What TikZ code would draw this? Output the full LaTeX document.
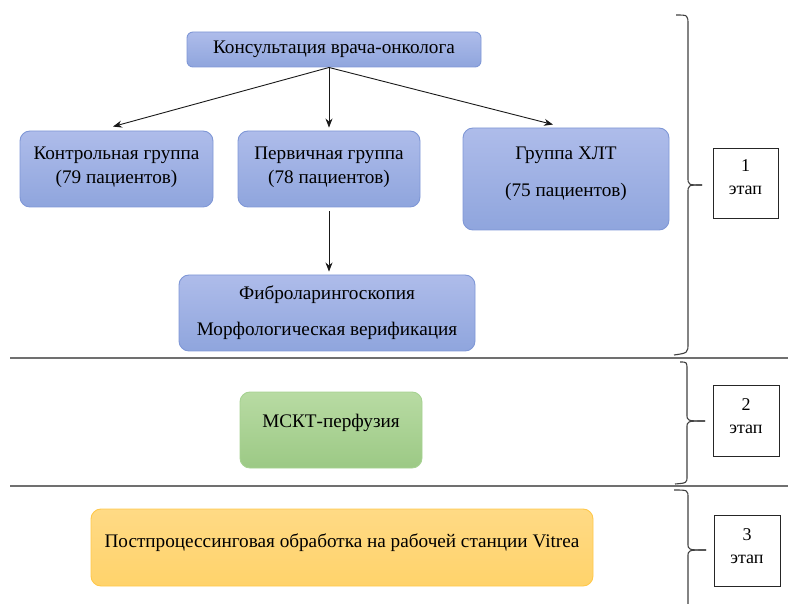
\documentclass[tikz,border=0pt]{standalone}
\usepackage{fontspec}
\setmainfont{Liberation Serif}
\usetikzlibrary{calc,arrows.meta}
\definecolor{bluetop}{HTML}{AEBCEA}
\definecolor{bluebot}{HTML}{8FA5DD}
\definecolor{blueline}{HTML}{7F97D6}
\definecolor{greentop}{HTML}{B8DBA3}
\definecolor{greenbot}{HTML}{9CC985}
\definecolor{greenline}{HTML}{A6D291}
\definecolor{yeltop}{HTML}{FFDA85}
\definecolor{yelbot}{HTML}{FFD36B}
\definecolor{yelline}{HTML}{FFC84A}
\definecolor{sepline}{HTML}{707070}
\definecolor{braceline}{HTML}{404040}
\begin{document}
\begin{tikzpicture}[x=1pt,y=-1pt,
  every node/.style={font=\fontsize{19.2}{24}\selectfont, inner sep=0pt, align=center, text=black},
  bluebox/.style={rectangle, rounded corners=10pt, draw=blueline, line width=0.9pt, top color=bluetop, bottom color=bluebot},
  greenbox/.style={rectangle, rounded corners=10pt, draw=greenline, line width=0.9pt, top color=greentop, bottom color=greenbot},
  yelbox/.style={rectangle, rounded corners=10pt, draw=yelline, line width=0.9pt, top color=yeltop, bottom color=yelbot},
  stagebox/.style={rectangle, draw=black!85, line width=0.9pt, fill=white},
  arr/.style={-{Stealth[length=9pt,width=7pt]}, line width=0.9pt, black!90},
  sep/.style={draw=sepline, line width=1.5pt},
  brace/.style={draw=braceline, line width=1.1pt}
]
\useasboundingbox (0,0) rectangle (788,604);

% separators
\draw[sep] (10,358) -- (788,358);
\draw[sep] (10,486) -- (788,486);

% boxes
\node[bluebox, rounded corners=6pt, minimum width=294pt, minimum height=35pt] (top) at (334,49.5) {Консультация врача-онколога};
\node[bluebox, minimum width=193pt, minimum height=76pt] (kontr) at (116.5,169) {\begin{minipage}{190pt}\centering\fontsize{19.2}{24}\selectfont Контрольная группа\\(79 пациентов)\par\vspace{4pt}\end{minipage}};
\node[bluebox, minimum width=182pt, minimum height=76pt] (prim) at (329,169) {\begin{minipage}{180pt}\centering\fontsize{19.2}{24}\selectfont Первичная группа\\(78 пациентов)\par\vspace{4pt}\end{minipage}};
\node[bluebox, minimum width=206pt, minimum height=102pt] (xlt) at (566,179) {\begin{minipage}{200pt}\centering\fontsize{19.2}{37}\selectfont Группа ХЛТ\\(75 пациентов)\par\vspace{10pt}\end{minipage}};
\node[bluebox, minimum width=296pt, minimum height=76pt] (fib) at (327,313) {\begin{minipage}{290pt}\centering\fontsize{19.2}{36}\selectfont Фиброларингоскопия\\Морфологическая верификация\end{minipage}};
\node[greenbox, minimum width=182pt, minimum height=76pt] (msct) at (331,430) {\begin{minipage}{180pt}\centering МСКТ-перфузия\par\vspace{14pt}\end{minipage}};
\node[yelbox, minimum width=502pt, minimum height=77pt] (post) at (342,547.5) {\begin{minipage}{495pt}\centering Постпроцессинговая обработка на рабочей станции Vitrea\par\vspace{10pt}\end{minipage}};

% stage boxes
\node[stagebox, minimum width=65pt, minimum height=70pt] (st1) at (745.5,183) {\begin{minipage}{60pt}\centering\fontsize{18}{23}\selectfont 1\\этап\par\vspace{11pt}\end{minipage}};
\node[stagebox, minimum width=66pt, minimum height=71pt] (st2) at (746,420.5) {\begin{minipage}{60pt}\centering\fontsize{18}{23}\selectfont 2\\этап\par\vspace{8pt}\end{minipage}};
\node[stagebox, minimum width=66pt, minimum height=71pt] (st3) at (747,550.5) {\begin{minipage}{60pt}\centering\fontsize{18}{23}\selectfont 3\\этап\par\vspace{9pt}\end{minipage}};

% arrows
\coordinate (split) at (329,67.5);
\draw[arr] (split) -- ($(kontr.north)+(-3.5,-4)$);
\draw[arr] (split) -- ($(prim.north)+(0,-3)$);
\draw[arr] (split) -- ($(xlt.north)+(-13,-3)$);
\draw[arr] ($(prim.south)+(0,4)$) -- ($(fib.north)+(2,-3)$);

% braces
\draw[brace] (676,15) .. controls (688,15) .. (688,25) -- (688,177) .. controls (688,185) .. (702,185);
\draw[brace] (702,185) .. controls (688,185) .. (688,193) -- (688,343) .. controls (688,353) .. (674,355);
\draw[brace] (680,362) .. controls (687,362) .. (687,370) -- (687,414) .. controls (687,421) .. (705,421);
\draw[brace] (705,421) .. controls (687,421) .. (687,428) -- (687,476) .. controls (687,483) .. (675,484);
\draw[brace] (674,490) .. controls (688,490) .. (688,498) -- (688,543) .. controls (688,550) .. (706,550);
\draw[brace] (706,550) .. controls (688,550) .. (688,557) -- (688,604);
\end{tikzpicture}
\end{document}
